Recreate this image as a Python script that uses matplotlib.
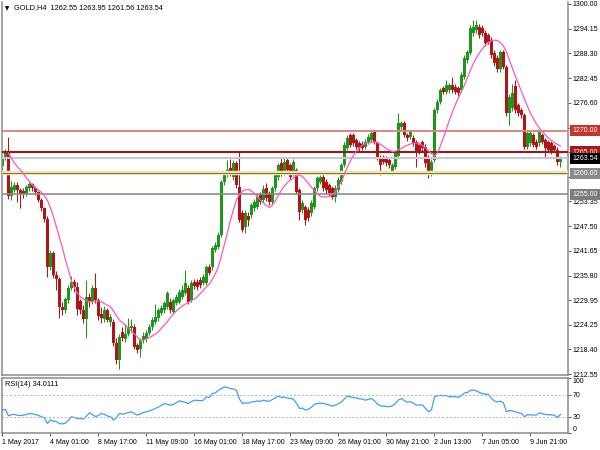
import matplotlib

matplotlib.use("Agg")

import matplotlib.pyplot as plt
import numpy as np

plt.rcParams["font.family"] = ["Liberation Sans", "DejaVu Sans"]

# GOLD H4 candles, 1 May 09:00 .. 12 Jun 2017
opens = [
    1261.8, 1263.5, 1264.9, 1254.6, 1256.0, 1257.3, 1256.0, 1255.8, 1255.0, 1256.5,
    1257.4, 1256.6, 1255.5, 1253.7, 1251.7, 1249.2, 1237.8, 1241.2, 1236.0, 1235.0,
    1228.4, 1227.6, 1230.0, 1233.0, 1234.3, 1233.2, 1229.8, 1227.8, 1225.6, 1230.8,
    1229.6, 1232.9, 1230.0, 1226.8, 1225.6, 1227.6, 1224.8, 1224.9, 1219.9, 1215.9,
    1222.5, 1220.8, 1222.0, 1223.4, 1223.7, 1219.4, 1218.6, 1220.6, 1220.8, 1222.2,
    1223.7, 1224.9, 1225.8, 1227.0, 1227.6, 1228.4, 1229.6, 1227.2, 1229.3, 1229.6,
    1230.8, 1231.7, 1232.9, 1230.0, 1234.3, 1234.3, 1234.8, 1234.1, 1234.1, 1237.8,
    1237.8, 1241.9, 1242.5, 1245.4, 1257.9, 1259.5, 1261.2, 1259.0, 1262.3, 1256.7,
    1250.6, 1247.3, 1250.0, 1250.1, 1251.7, 1252.0, 1254.9, 1253.6, 1256.4, 1255.3,
    1253.2, 1256.4, 1259.0, 1262.3, 1260.0, 1263.1, 1261.9, 1260.0, 1260.7, 1256.0,
    1251.3, 1252.0, 1251.3, 1250.6, 1252.0, 1256.4, 1258.0, 1259.2, 1258.0, 1257.2,
    1256.5, 1254.4, 1256.0, 1257.9, 1261.9, 1266.0, 1269.0, 1269.0, 1267.8, 1267.1,
    1267.0, 1266.3, 1267.4, 1267.8, 1269.7, 1267.1, 1263.8, 1263.6, 1263.6, 1263.1,
    1260.2, 1261.4, 1264.0, 1270.9, 1271.8, 1269.0, 1268.6, 1268.3, 1267.3, 1266.7,
    1267.3, 1266.2, 1263.8, 1260.4, 1263.1, 1274.9, 1276.9, 1280.1, 1279.2, 1279.6,
    1280.8, 1280.4, 1280.1, 1279.6, 1282.7, 1286.7, 1288.4, 1293.0, 1293.8, 1294.6,
    1294.3, 1293.1, 1292.6, 1291.5, 1288.4, 1287.2, 1284.5, 1288.6, 1285.1, 1274.2,
    1275.3, 1280.5, 1276.0, 1274.9, 1273.7, 1266.2, 1267.1, 1269.0, 1267.4, 1267.1,
    1269.0, 1267.8, 1267.3, 1267.1, 1266.5, 1265.5, 1262.55,
]
highs = [
    1264.0, 1265.6, 1268.6, 1258.2, 1257.9, 1258.0, 1256.6, 1256.4, 1257.3, 1257.9,
    1257.8, 1257.0, 1255.9, 1254.2, 1252.1, 1249.8, 1241.8, 1241.6, 1236.8, 1235.6,
    1229.5, 1230.8, 1233.6, 1235.8, 1235.0, 1234.2, 1230.4, 1228.9, 1234.7, 1231.6,
    1233.5, 1236.4, 1230.6, 1228.4, 1228.6, 1228.2, 1226.8, 1225.6, 1221.0, 1222.0,
    1223.7, 1224.5, 1225.8, 1225.6, 1224.3, 1219.9, 1221.2, 1222.4, 1223.0, 1224.5,
    1226.0, 1229.0, 1228.2, 1228.8, 1229.9, 1232.3, 1230.6, 1230.6, 1231.5, 1232.6,
    1233.6, 1237.1, 1233.5, 1234.7, 1235.0, 1234.9, 1235.4, 1236.2, 1238.4, 1238.5,
    1242.9, 1243.7, 1246.0, 1258.5, 1260.6, 1263.0, 1263.3, 1263.0, 1262.9, 1265.1,
    1251.2, 1251.2, 1250.9, 1253.0, 1253.9, 1255.0, 1255.5, 1257.2, 1257.6, 1255.9,
    1257.0, 1260.1, 1262.5, 1263.6, 1263.6, 1263.7, 1262.5, 1263.3, 1261.3, 1256.6,
    1253.6, 1252.6, 1251.9, 1253.6, 1257.0, 1259.4, 1259.6, 1259.8, 1258.6, 1257.8,
    1257.0, 1257.1, 1259.0, 1262.5, 1267.3, 1268.9, 1269.5, 1269.4, 1268.4, 1267.7,
    1267.6, 1268.0, 1269.2, 1270.2, 1270.3, 1267.7, 1264.4, 1264.2, 1264.1, 1263.7,
    1262.5, 1265.3, 1274.2, 1272.4, 1272.4, 1269.6, 1270.2, 1268.9, 1267.9, 1267.2,
    1267.8, 1266.8, 1264.4, 1263.3, 1275.5, 1277.4, 1280.0, 1280.7, 1282.0, 1281.4,
    1282.8, 1281.0, 1280.6, 1283.8, 1287.8, 1289.2, 1294.9, 1296.2, 1296.2, 1295.2,
    1295.0, 1293.7, 1293.2, 1292.1, 1289.0, 1287.8, 1289.1, 1289.1, 1285.6, 1278.7,
    1281.0, 1282.0, 1276.6, 1275.5, 1274.3, 1270.1, 1270.0, 1269.6, 1268.0, 1270.3,
    1269.6, 1268.4, 1267.9, 1267.7, 1267.0, 1266.1, 1263.95,
]
lows = [
    1260.8, 1263.0, 1254.0, 1253.6, 1255.5, 1253.3, 1251.8, 1254.2, 1254.6, 1255.9,
    1255.8, 1254.9, 1253.2, 1251.0, 1248.5, 1235.6, 1237.2, 1235.2, 1232.5, 1225.8,
    1226.4, 1227.0, 1229.3, 1232.4, 1232.0, 1226.5, 1226.8, 1224.6, 1221.0, 1228.5,
    1229.0, 1229.4, 1225.4, 1224.7, 1224.8, 1224.9, 1223.9, 1219.3, 1215.0, 1213.8,
    1220.4, 1220.2, 1221.5, 1222.6, 1218.5, 1217.5, 1216.6, 1219.8, 1220.2, 1221.7,
    1223.0, 1224.4, 1225.2, 1226.4, 1227.0, 1228.0, 1227.0, 1226.7, 1228.8, 1229.0,
    1230.2, 1231.2, 1229.0, 1229.5, 1232.6, 1232.5, 1233.0, 1233.6, 1233.6, 1236.0,
    1237.2, 1241.3, 1242.0, 1245.0, 1257.3, 1259.0, 1259.4, 1258.5, 1256.6, 1248.4,
    1246.0, 1245.9, 1247.6, 1249.5, 1251.1, 1251.5, 1252.7, 1253.0, 1253.5, 1252.6,
    1252.8, 1255.8, 1258.5, 1259.4, 1259.5, 1260.2, 1258.5, 1259.4, 1255.0, 1249.0,
    1250.6, 1247.8, 1248.8, 1250.0, 1251.5, 1255.8, 1257.4, 1255.9, 1255.4, 1254.7,
    1253.8, 1253.2, 1255.5, 1257.4, 1261.4, 1265.5, 1266.2, 1266.5, 1265.6, 1265.3,
    1265.4, 1265.8, 1266.9, 1267.3, 1266.8, 1263.0, 1259.6, 1262.1, 1261.8, 1261.3,
    1259.6, 1260.9, 1263.5, 1270.3, 1268.5, 1267.7, 1268.0, 1266.5, 1261.5, 1264.5,
    1265.3, 1261.5, 1258.8, 1259.4, 1262.6, 1274.3, 1276.4, 1278.6, 1278.7, 1279.0,
    1279.0, 1278.6, 1278.3, 1279.1, 1282.2, 1286.1, 1287.9, 1292.5, 1293.2, 1292.0,
    1292.5, 1290.1, 1290.4, 1287.3, 1285.4, 1283.8, 1284.0, 1284.5, 1273.6, 1271.4,
    1274.8, 1274.3, 1273.6, 1273.1, 1265.6, 1265.6, 1266.5, 1266.1, 1265.7, 1266.5,
    1266.8, 1263.9, 1264.9, 1264.5, 1264.9, 1262.0, 1261.56,
]
closes = [
    1263.5, 1264.9, 1254.6, 1256.8, 1257.3, 1256.0, 1255.2, 1255.0, 1256.7, 1257.4,
    1256.6, 1255.5, 1253.7, 1251.7, 1249.2, 1237.8, 1241.2, 1236.0, 1235.0, 1228.4,
    1227.6, 1230.2, 1233.0, 1234.3, 1233.2, 1228.0, 1227.6, 1225.6, 1230.8, 1229.6,
    1232.9, 1230.0, 1226.2, 1225.8, 1227.8, 1225.4, 1226.0, 1219.9, 1215.9, 1221.3,
    1221.0, 1222.0, 1223.7, 1224.0, 1219.0, 1218.2, 1220.6, 1221.6, 1222.3, 1223.8,
    1225.3, 1226.1, 1227.6, 1228.2, 1229.3, 1231.7, 1227.6, 1230.0, 1230.8, 1232.0,
    1232.4, 1234.1, 1229.6, 1234.1, 1233.4, 1233.1, 1233.6, 1235.5, 1237.8, 1236.5,
    1242.3, 1243.0, 1245.4, 1257.9, 1260.0, 1260.7, 1260.0, 1262.3, 1257.2, 1249.0,
    1246.6, 1250.6, 1248.9, 1252.4, 1253.3, 1254.4, 1253.3, 1256.2, 1254.1, 1253.2,
    1256.4, 1259.5, 1261.9, 1260.0, 1262.7, 1260.8, 1259.1, 1262.7, 1255.6, 1250.8,
    1253.0, 1249.0, 1249.4, 1253.0, 1256.4, 1258.8, 1259.2, 1256.4, 1256.0, 1255.3,
    1254.4, 1256.5, 1258.4, 1261.9, 1266.7, 1268.3, 1266.7, 1267.1, 1266.2, 1265.9,
    1266.0, 1267.4, 1268.6, 1269.5, 1267.4, 1263.6, 1261.9, 1262.7, 1262.4, 1261.9,
    1261.9, 1264.7, 1271.8, 1271.8, 1269.0, 1268.3, 1269.8, 1267.1, 1265.0, 1265.1,
    1265.9, 1262.4, 1260.2, 1262.7, 1274.9, 1276.8, 1279.6, 1279.2, 1280.8, 1280.8,
    1279.6, 1279.2, 1278.9, 1283.2, 1287.2, 1288.6, 1294.3, 1294.4, 1295.0, 1292.6,
    1293.1, 1290.7, 1291.0, 1287.9, 1286.0, 1284.5, 1288.6, 1285.1, 1274.2, 1278.1,
    1279.0, 1274.9, 1274.2, 1273.7, 1266.2, 1269.5, 1269.4, 1266.7, 1266.3, 1269.7,
    1267.4, 1265.9, 1265.5, 1265.1, 1265.5, 1262.6, 1263.54,
]
# pink moving average drawn on the price window
ma_values = [
    None, None, 1264.8, 1263.5, 1262.4, 1261.5, 1260.8, 1259.8, 1258.9, 1258.0,
    1257.2, 1256.6, 1256.0, 1255.5, 1254.6, 1253.6, 1251.8, 1249.7, 1247.3, 1244.8,
    1242.4, 1239.5, 1237.1, 1234.5, 1232.8, 1231.6, 1230.8, 1230.3, 1229.9, 1229.7,
    1229.7, 1229.8, 1229.8, 1229.6, 1229.2, 1228.8, 1228.5, 1227.5, 1226.3, 1225.3,
    1224.7, 1224.1, 1223.4, 1222.7, 1222.0, 1221.3, 1220.4, 1220.6, 1220.9, 1221.2,
    1221.6, 1222.0, 1222.6, 1223.4, 1224.2, 1225.0, 1225.9, 1226.8, 1227.5, 1228.1,
    1228.7, 1229.1, 1229.5, 1229.9, 1230.3, 1230.9, 1231.6, 1232.4, 1233.2, 1233.9,
    1235.0, 1236.3, 1238.0, 1240.5, 1243.2, 1246.0, 1248.9, 1251.4, 1253.7, 1255.0,
    1255.7, 1256.1, 1256.2, 1255.8, 1255.2, 1254.4, 1253.6, 1253.0, 1252.3, 1251.9,
    1252.5, 1253.5, 1254.8, 1256.0, 1257.0, 1257.8, 1258.4, 1258.9, 1259.4, 1259.6,
    1259.2, 1258.4, 1257.6, 1256.7, 1255.9, 1255.1, 1254.5, 1254.4, 1254.4, 1254.5,
    1255.0, 1255.6, 1256.8, 1258.0, 1259.8, 1261.5, 1262.9, 1264.2, 1265.3, 1266.0,
    1266.6, 1267.0, 1267.2, 1267.3, 1267.4, 1267.2, 1266.8, 1266.3, 1265.8, 1265.4,
    1265.1, 1265.2, 1265.5, 1265.9, 1266.3, 1266.6, 1266.9, 1267.1, 1267.1, 1266.9,
    1266.5, 1266.0, 1265.3, 1264.6, 1264.1, 1264.8, 1266.5, 1268.4, 1270.5, 1272.6,
    1274.5, 1276.3, 1277.8, 1279.3, 1280.8, 1282.6, 1284.4, 1285.9, 1287.3, 1288.4,
    1289.4, 1290.2, 1290.9, 1291.3, 1291.4, 1291.3, 1290.8, 1290.0, 1288.6, 1286.7,
    1284.7, 1282.8, 1281.1, 1279.3, 1277.5, 1275.8, 1274.1, 1272.8, 1271.6, 1270.6,
    1269.8, 1269.0, 1268.3, 1267.7, 1267.2, 1266.8, 1266.4,
]
rsi_values = [
    41.8, 43.0, 31.5, 33.5, 34.0, 32.5, 31.8, 32.5, 34.0, 35.5,
    35.0, 33.8, 32.0, 29.8, 27.5, 17.6, 24.0, 21.5, 21.0, 17.0,
    16.8, 18.0, 23.5, 29.7, 28.5, 26.0, 26.5, 25.5, 31.0, 37.0,
    33.5, 30.0, 32.0, 35.8, 34.0, 31.0, 30.0, 23.6, 28.0, 35.8,
    34.5, 36.0, 37.5, 38.8, 35.0, 32.7, 35.0, 37.5, 38.8, 40.5,
    42.5, 44.8, 47.5, 50.5, 53.9, 52.5, 50.9, 52.5, 55.5, 58.8,
    57.5, 56.0, 53.9, 57.5, 60.0, 59.5, 59.0, 60.0, 66.0, 65.0,
    72.1, 73.5, 78.2, 81.5, 84.2, 83.0, 81.2, 80.5, 78.0, 62.0,
    53.9, 55.0, 54.5, 56.9, 57.5, 58.5, 58.0, 60.0, 58.5, 58.0,
    61.5, 64.5, 67.3, 65.0, 65.5, 64.0, 63.0, 62.0, 54.0, 44.8,
    45.5, 41.8, 43.5, 47.0, 52.5, 53.9, 54.5, 53.9, 52.5, 51.0,
    49.0, 51.0, 53.5, 57.0, 62.5, 67.3, 66.0, 65.0, 64.0, 62.5,
    62.0, 60.0, 61.5, 63.0, 59.0, 52.7, 49.5, 49.0, 48.5, 47.9,
    50.0, 53.9, 60.5, 63.0, 59.0, 56.3, 57.0, 54.5, 51.0, 51.5,
    51.0, 45.0, 38.8, 42.5, 66.0, 68.0, 69.0, 68.0, 68.5, 66.0,
    66.5, 66.0, 65.0, 69.0, 73.3, 74.0, 78.2, 78.5, 77.0, 74.0,
    72.1, 71.0, 70.5, 63.0, 58.5, 56.9, 58.0, 55.0, 38.8, 41.0,
    40.5, 38.8, 37.0, 35.8, 29.7, 33.5, 33.0, 32.7, 33.0, 37.0,
    35.0, 34.0, 33.5, 33.0, 32.5, 28.5, 34.0,
]

date_labels = [
    "1 May 2017", "4 May 01:00", "8 May 17:00", "11 May 09:00", "16 May 01:00",
    "18 May 17:00", "23 May 09:00", "26 May 01:00", "30 May 21:00",
    "2 Jun 13:00", "7 Jun 05:00", "9 Jun 21:00",
]
bars_per_label = 16
price_ticks = [
    1300.00, 1294.15, 1288.30, 1282.45, 1276.60, 1270.75, 1265.05, 1259.20,
    1253.35, 1247.50, 1241.65, 1235.80, 1229.95, 1224.25, 1218.40, 1212.55,
]
# scale values that sit fully behind the level boxes in the screenshot
hidden_ticks = [1270.75, 1265.05]
level_prices = [1270.00, 1265.00, 1263.54, 1260.00, 1255.00]
level_line_colors = ["#df8585", "#a31515", "#c6c8d6", "#f3e6a2", "#8c8c8c"]
level_box_colors = ["#c2362c", "#a81818", "#000000", "#8a8a8a", "#7c7c7c"]
rsi_levels = [70, 30]

GREEN = "#1c961c"
RED = "#b31414"
FRAME = "#8a8a8a"

o = np.array(opens)
h = np.array(highs)
lo = np.array(lows)
c = np.array(closes)
bar_idx = np.arange(len(c))
colors = np.where(c >= o, GREEN, RED)

fig = plt.figure(figsize=(6, 4.5), dpi=100)
ax = fig.add_axes([2 / 600, 1 - 375 / 450, 566 / 600, 373 / 450])
rsi_ax = fig.add_axes([2 / 600, 1 - 433 / 450, 566 / 600, 54.7 / 450])

# candles
ax.vlines(bar_idx, lo, h, colors=colors, lw=0.75, zorder=2)
body = np.maximum(np.abs(c - o), 0.15)
ax.bar(bar_idx, body, bottom=np.minimum(o, c), width=0.7, color=colors,
       lw=0, zorder=2)

# horizontal levels with price boxes on the scale
widths = [1.4, 1.5, 1.5, 3.2, 1.2]
for price, lc, bc, lw in zip(level_prices, level_line_colors, level_box_colors, widths):
    ax.axhline(price, color=lc, lw=lw, zorder=3)
    ax.annotate(f"{price:.2f}", xy=(1, price), xycoords=("axes fraction", "data"),
                xytext=(3.2, 0), textcoords="offset points", ha="left", va="center",
                color="white", fontsize=5,
                bbox=dict(boxstyle="square,pad=0.3", fc=bc, ec="none"),
                annotation_clip=False, zorder=6)
ax.axhline(level_prices[3], color="#6e6e6e", lw=0.7, zorder=3)

ma = np.array([np.nan if v is None else v for v in ma_values])
ax.plot(np.arange(len(ma)), ma, color="#ff59b8", lw=0.9, zorder=4)

ax.set_xlim(-0.15, 188.5)
ax.set_ylim(1212.35, 1300.42)
ax.yaxis.tick_right()
ax.set_yticks(price_ticks)
ax.set_yticklabels(["" if p in hidden_ticks else f"{p:.2f}" for p in price_ticks])
ax.tick_params(axis="y", labelsize=5, length=2, width=0.7, color="#555555", pad=1.5)
ax.set_xticks([])
for side in ("left", "right", "bottom"):
    ax.spines[side].set_color(FRAME)
    ax.spines[side].set_linewidth(1.1)
ax.spines["top"].set_visible(False)

# RSI window
rsi_ax.plot(np.arange(len(rsi_values)), rsi_values, color="#3f9dff", lw=0.9)
for lvl in rsi_levels:
    rsi_ax.axhline(lvl, color="#b4b4b4", lw=0.7, ls=(0, (2, 2)))
rsi_ax.set_xlim(-0.15, 188.5)
rsi_ax.set_ylim(0, 100)
rsi_ax.yaxis.tick_right()
rsi_ax.set_yticks([100, 70, 30, 0])
rsi_ax.set_yticklabels(["100", "70", "30", "0"])
rsi_ax.tick_params(axis="y", labelsize=5, length=2, width=0.7, color="#555555", pad=1.5)
ylabels = rsi_ax.get_yticklabels()
ylabels[0].set_va("top")
ylabels[-1].set_va("bottom")

label_idx = np.arange(len(date_labels)) * bars_per_label
rsi_ax.set_xticks(label_idx)
rsi_ax.set_xticklabels(date_labels, ha="left")
rsi_ax.tick_params(axis="x", labelsize=5, length=2.5, width=0.7, color="#555555", pad=1.5)
for side in rsi_ax.spines.values():
    side.set_color(FRAME)
    side.set_linewidth(1.1)

fig.text(5 / 600, 1 - 8.5 / 450, "\u25bc", fontsize=4, va="center", family="DejaVu Sans")
fig.text(13.5 / 600, 1 - 8 / 450, "GOLD,H4  1262.55 1263.95 1261.56 1263.54",
         fontsize=5.3, va="center")
fig.text(5 / 600, 1 - 384.5 / 450, "RSI(14) 34.0111", fontsize=5.3, va="center")

fig.savefig("out.png", dpi=100)
